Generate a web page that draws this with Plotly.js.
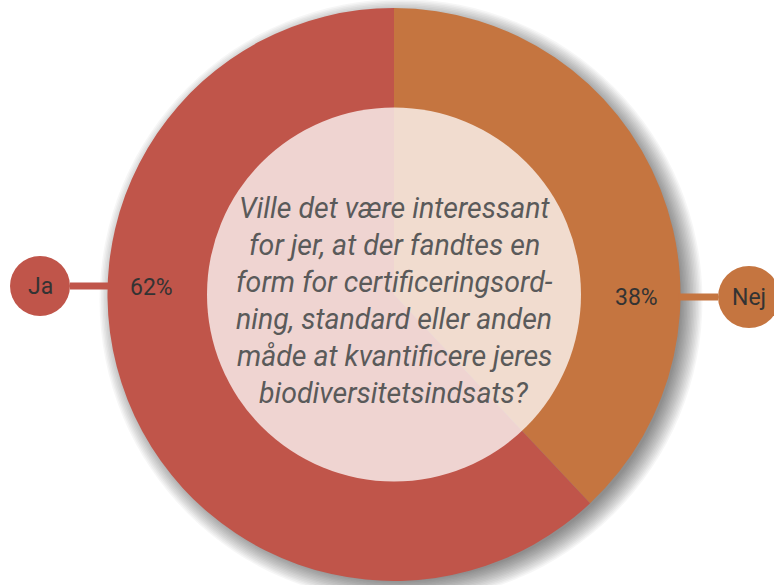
<!DOCTYPE html>
<html>
<head>
<meta charset="utf-8">
<script src="https://cdn.plot.ly/plotly-3.0.1.min.js"></script>
<style>html,body{margin:0;padding:0;background:#fff;}#chart{width:774px;height:585px;}</style>
</head>
<body>
<div id="chart"></div>
<script>
// Data
const categories = ['Ja', 'Nej'];
const values = [62, 38];
const sliceColors = ['#C0554A', '#C57540'];
const questionLines = [
  'Ville det være interessant',
  'for jer, at der fandtes en',
  'form for certificeringsord-',
  'ning, standard eller anden',
  'måde at kvantificere jeres',
  'biodiversitetsindsats?'
];

// Geometry (pixels)
const W = 774, H = 585;
const cx = 394, cy = 294.5, R = 286.5, rInner = 187;

const total = values.reduce((a, b) => a + b, 0);
const pct = values.map(v => Math.round(v / total * 100) + '%');

const shapes = [];
// soft drop shadow under pie
for (let i = 0; i < 15; i++) {
  const r = R - 6 + i * 1.5;
  shapes.push({type: 'circle', xref: 'x', yref: 'y', layer: 'below',
    x0: cx + 7 - r, x1: cx + 7 + r, y0: cy + 6 - r, y1: cy + 6 + r,
    fillcolor: 'rgba(0,0,0,0.035)', line: {width: 0}});
}
// label connectors and bubbles
const bubbles = [
  {x: 40, y: 286, r: 30, lineFrom: 70, lineTo: cx - R + 2},
  {x: 749, y: 297, r: 31, lineFrom: cx + R - 2, lineTo: 718}
];
bubbles.forEach((b, i) => {
  shapes.push({type: 'line', xref: 'x', yref: 'y', layer: 'above',
    x0: b.lineFrom, x1: b.lineTo, y0: b.y, y1: b.y,
    line: {color: sliceColors[i], width: 7}});
  shapes.push({type: 'circle', xref: 'x', yref: 'y', layer: 'above',
    x0: b.x - b.r, x1: b.x + b.r, y0: b.y - b.r, y1: b.y + b.r,
    fillcolor: sliceColors[i], line: {width: 0}});
});
// translucent inner disc
shapes.push({type: 'circle', xref: 'x', yref: 'y', layer: 'above',
  x0: cx - rInner, x1: cx + rInner, y0: cy - rInner, y1: cy + rInner,
  fillcolor: 'rgba(255,255,255,0.75)', line: {width: 0}});

const annotations = [];
const pctPos = [{x: 151, y: 287}, {x: 636, y: 297}];
bubbles.forEach((b, i) => {
  annotations.push({xref: 'x', yref: 'y', x: b.x, y: b.y, text: categories[i], showarrow: false,
    font: {family: 'Roboto, sans-serif', size: 23, color: '#333'}});
  annotations.push({xref: 'x', yref: 'y', x: pctPos[i].x, y: pctPos[i].y, text: pct[i], showarrow: false,
    font: {family: 'Roboto, sans-serif', size: 23, color: '#333'}});
});
const lineGap = 37, firstY = 208;
questionLines.forEach((t, i) => {
  annotations.push({xref: 'x', yref: 'y', x: cx, y: firstY + i * lineGap, text: '<i>' + t + '</i>',
    showarrow: false, font: {family: 'Roboto, sans-serif', size: 28.5, color: '#5a5a5a'}});
});

// Nej drawn first clockwise from 12 o'clock so it sits on the right
const order = [1, 0];
const data = [{
  type: 'pie',
  labels: order.map(i => categories[i]),
  values: order.map(i => values[i]),
  sort: false,
  direction: 'clockwise',
  rotation: 0,
  textinfo: 'none',
  hoverinfo: 'label+percent',
  marker: {colors: order.map(i => sliceColors[i]), line: {width: 0}},
  domain: {x: [(cx - R) / W, (cx + R) / W], y: [(H - (cy + R)) / H, (H - (cy - R)) / H]},
  showlegend: false
}];

const layout = {
  width: W, height: H,
  margin: {l: 0, r: 0, t: 0, b: 0},
  paper_bgcolor: '#fff', plot_bgcolor: 'rgba(0,0,0,0)',
  xaxis: {range: [0, W], visible: false, fixedrange: true},
  yaxis: {range: [H, 0], visible: false, fixedrange: true},
  shapes: shapes,
  annotations: annotations,
  showlegend: false
};

Plotly.newPlot('chart', data, layout, {displayModeBar: false, staticPlot: true});
</script>
</body>
</html>
